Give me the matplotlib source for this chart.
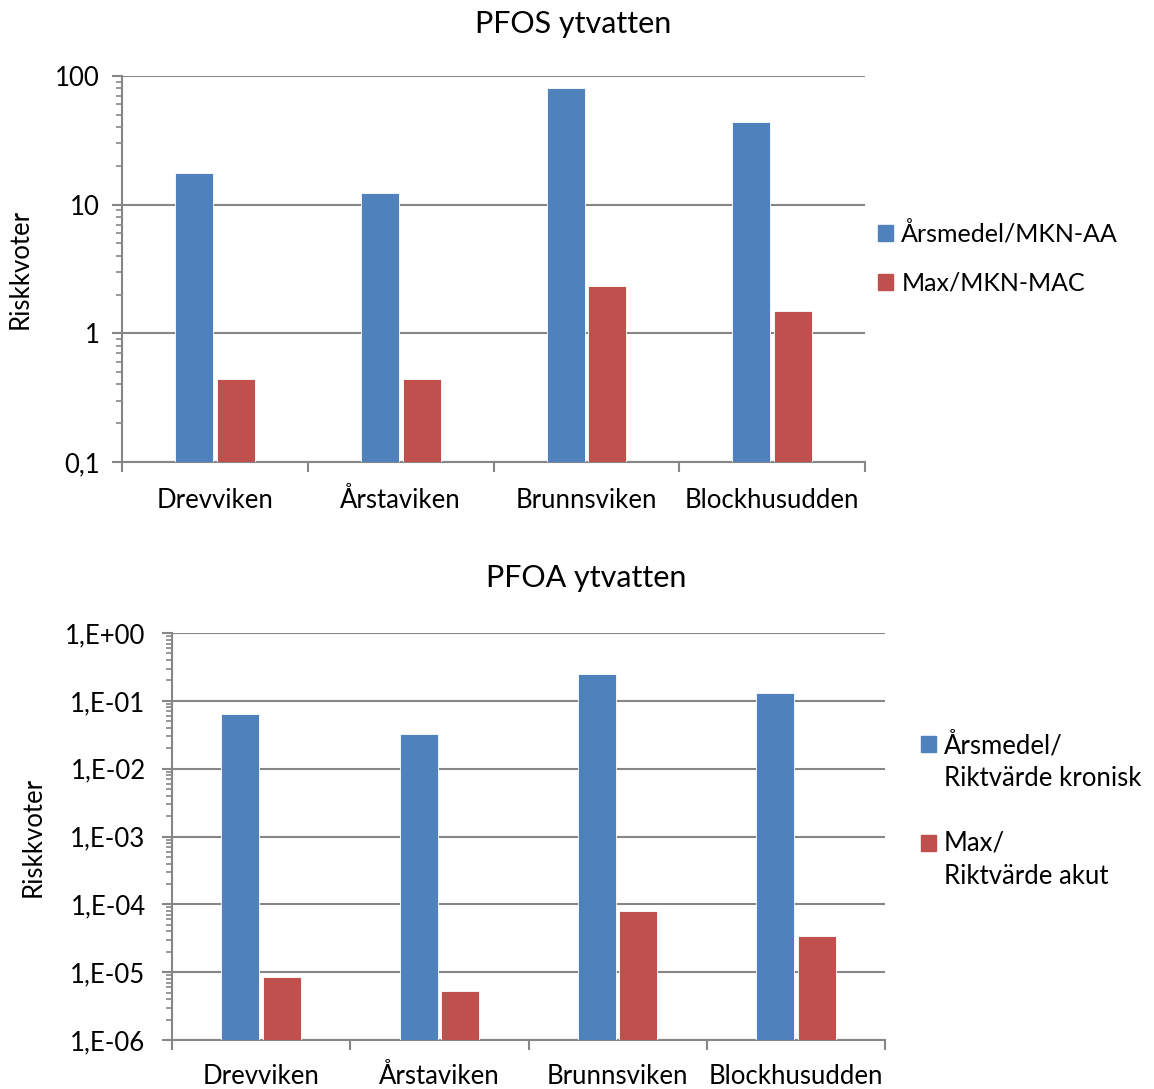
import numpy as np
import matplotlib.pyplot as plt
import matplotlib.patches as mpatches
from matplotlib.legend_handler import HandlerPatch
from matplotlib.ticker import LogLocator, NullFormatter, FuncFormatter

plt.rcParams['font.family'] = ['Lato', 'DejaVu Sans']

#Datos
platser = ['Drevviken', 'Årstaviken', 'Brunnsviken', 'Blockhusudden']
pfos_medel = [17.5, 12.2, 81, 43.5]
pfos_max = [0.44, 0.44, 2.35, 1.5]
pfoa_medel = [0.065, 0.032, 0.25, 0.13]
pfoa_max = [8.6e-6, 5.2e-6, 7.9e-5, 3.4e-5]

blue = '#4F81BD'
red = '#C0504D'
grey = '#868686'
fs = 18.5

fig = plt.figure(figsize=(11.54, 10.89), dpi=100)


def rita(ax, medel, maxv, ylim, fmt, bw, ypad, xpad):
    x = np.arange(len(platser))
    ax.bar(x - bw / 2 - 0.01, medel, bw, color=blue, edgecolor='white', linewidth=0.6, zorder=3)
    ax.bar(x + bw / 2 + 0.01, maxv, bw, color=red, edgecolor='white', linewidth=0.6, zorder=3)
    ax.set_yscale('log')
    ax.set_ylim(*ylim)
    ax.set_xlim(-0.5, len(platser) - 0.5)
    ax.yaxis.set_major_formatter(FuncFormatter(fmt))
    ax.yaxis.set_minor_locator(LogLocator(base=10, subs=np.arange(2, 10)))
    ax.yaxis.set_minor_formatter(NullFormatter())
    ax.set_xticks(np.arange(-0.5, len(platser)))
    ax.set_xticklabels([])
    ax.set_xticks(x, minor=True)
    ax.set_xticklabels(platser, minor=True, fontsize=fs)
    ax.tick_params(axis='x', which='major', length=7, width=1.5, color=grey, direction='out')
    ax.tick_params(axis='x', which='minor', length=0, pad=xpad)
    ax.tick_params(axis='y', which='major', length=7, width=1.5, color=grey, labelsize=fs, pad=ypad)
    ax.tick_params(axis='y', which='minor', length=4, width=1.2, color=grey)
    ax.grid(axis='y', which='major', color=grey, linewidth=1.5, zorder=0)
    for s in ['top', 'right']:
        ax.spines[s].set_visible(False)
    for s in ['left', 'bottom']:
        ax.spines[s].set_color(grey)
        ax.spines[s].set_linewidth(1.5)
    ax.set_ylabel('Riskkvoter', fontsize=fs)


#PFOS
ax1 = fig.add_axes([0.1057, 0.5758, 0.644, 0.3545])
rita(ax1, pfos_medel, pfos_max, (0.1, 100),
     lambda v, p: {0.1: '0,1', 1: '1', 10: '10', 100: '100'}.get(round(v, 1), ''), 0.205, 9, 19)
fig.text(0.4965, 0.978, 'PFOS ytvatten', fontsize=22, ha='center', va='center')
ax1.yaxis.set_label_coords(-0.12, 0.5)
h1 = [mpatches.Patch(color=blue, label='Årsmedel/MKN-AA'),
      mpatches.Patch(color=red, label='Max/MKN-MAC')]
fig.legend(handles=h1, loc='center left', bbox_to_anchor=(0.741, 0.763), frameon=False,
           fontsize=18, handlelength=0.6, handleheight=0.6, handletextpad=0.35, labelspacing=1.05)

#PFOA
ax2 = fig.add_axes([0.149, 0.045, 0.618, 0.3737])
rita(ax2, pfoa_medel, pfoa_max, (1e-6, 1),
     lambda v, p: '1,E' + ('+' if v >= 1 else '-') + '%02d' % abs(round(np.log10(v))), 0.213, 12, 17)
fig.text(0.508, 0.469, 'PFOA ytvatten', fontsize=22, ha='center', va='center')
ax2.yaxis.set_label_coords(-0.177, 0.5)

ls = 1.4
despl = 0.5 * ls * fs


def cuadro_arriba(legend, orig_handle, xdescent, ydescent, width, height, fontsize):
    return mpatches.Rectangle((-xdescent, -ydescent + despl), width, height)


h2 = [mpatches.Patch(color=blue, label='Årsmedel/\nRiktvärde kronisk'),
      mpatches.Patch(color=red, label='Max/\nRiktvärde akut')]
leg2 = fig.legend(handles=h2, loc='center left', bbox_to_anchor=(0.778, 0.256), frameon=False,
                  fontsize=fs, handlelength=0.6, handleheight=0.6, handletextpad=0.3, labelspacing=1.55,
                  handler_map={mpatches.Patch: HandlerPatch(patch_func=cuadro_arriba)})
for t in leg2.get_texts():
    t.set_linespacing(ls)

fig.savefig('out.png', dpi=100)
